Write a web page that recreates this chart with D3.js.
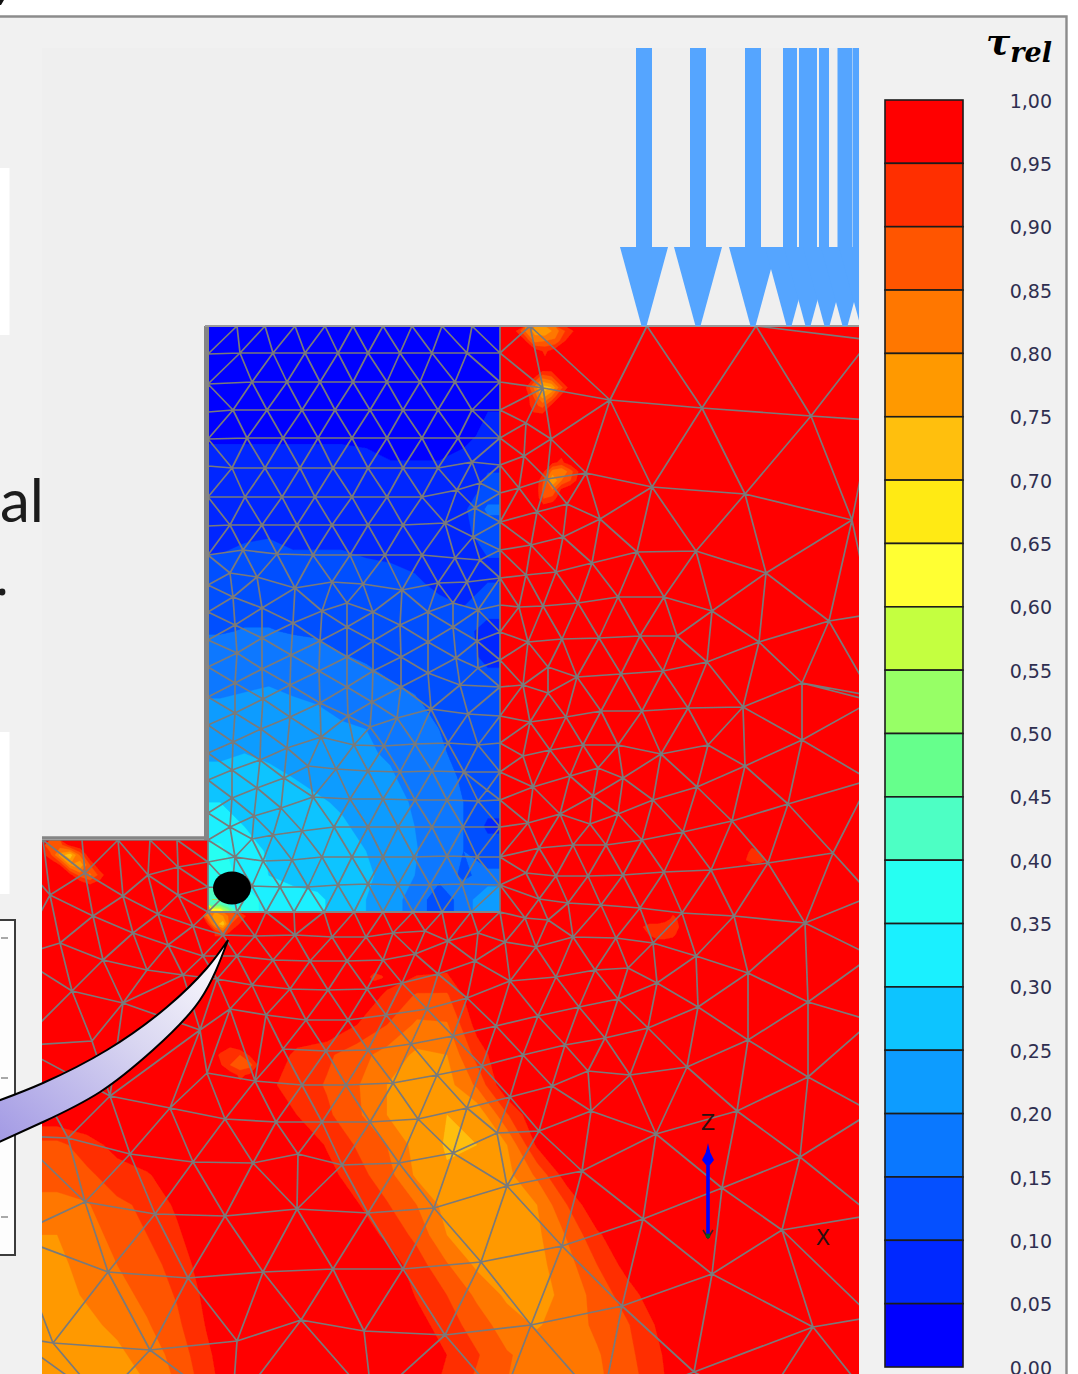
<!DOCTYPE html>
<html>
<head>
<meta charset="utf-8">
<script src="https://cdn.jsdelivr.net/npm/d3@7"></script>
<style>
html,body{margin:0;padding:0;background:#fff;overflow:hidden}
svg{display:block}
</style>
</head>
<body>
<svg id="c" width="1078" height="1374"></svg>
<script>
// ---- legend -------------------------------------------------------------
const tickValues = [1,.95,.9,.85,.8,.75,.7,.65,.6,.55,.5,.45,.4,.35,.3,.25,.2,.15,.1,.05,0];
const tickLabels = ["1,00","0,95","0,90","0,85","0,80","0,75","0,70","0,65","0,60","0,55","0,50","0,45","0,40","0,35","0,30","0,25","0,20","0,15","0,10","0,05","0,00"];
const bandColors = ["#ff0000","#ff2f00","#ff5500","#ff7700","#ff9900","#ffbf0d","#ffea14","#ffff33","#c4ff40","#97ff66","#66ff8c","#4dffc4","#26fff2","#1af0ff","#0dc4ff","#0d9cff","#0a78ff","#0550ff","#0028ff","#0000ff"];
const legendTitle = "\u03C4", legendSub = "rel";

// ---- loads, model units -------------------------------------------------
const loadTips = [602,656,711,747,766,785,803,821];
const loadShafts = [602,656,711,748,766,782,803,814];
const shaftWidths = [16,16,16,14,18,10,15,6];

// ---- tau_rel: wall block (12 cols x 24 rows) ---------------------------
const wallField = [
[.02,.02,.02,.02,.02,.02,.02,.02,.02,.02,.02,.02],
[.02,.02,.02,.02,.02,.02,.02,.02,.02,.02,.02,.02],
[.02,.02,.02,.02,.02,.02,.02,.02,.02,.02,.02,.03],
[.02,.02,.02,.02,.02,.02,.02,.02,.02,.02,.03,.05],
[.04,.04,.04,.04,.04,.04,.04,.03,.03,.03,.04,.06],
[.07,.07,.07,.07,.07,.07,.06,.05,.05,.05,.06,.09],
[.08,.08,.08,.08,.08,.08,.08,.07,.07,.07,.07,.11],
[.09,.09,.09,.09,.08,.08,.08,.08,.08,.08,.09,.16],
[.085,.095,.098,.09,.09,.09,.09,.085,.085,.085,.09,.12],
[.103,.108,.108,.105,.105,.105,.10,.098,.095,.09,.09,.10],
[.12,.125,.125,.12,.12,.115,.112,.108,.103,.095,.095,.10],
[.135,.14,.14,.135,.13,.125,.12,.117,.112,.105,.10,.11],
[.147,.152,.152,.147,.145,.135,.13,.125,.12,.112,.108,.09],
[.17,.172,.172,.168,.162,.152,.145,.138,.13,.122,.113,.09],
[.185,.19,.195,.19,.18,.17,.16,.15,.143,.13,.12,.11],
[.205,.21,.215,.205,.20,.19,.175,.17,.155,.14,.125,.12],
[.215,.22,.225,.22,.21,.205,.20,.18,.165,.15,.135,.125],
[.245,.25,.24,.235,.225,.215,.205,.195,.175,.155,.14,.125],
[.26,.265,.265,.25,.24,.23,.22,.205,.185,.165,.145,.125],
[.30,.29,.28,.265,.255,.245,.23,.215,.195,.17,.15,.12],
[.33,.30,.29,.28,.27,.255,.24,.22,.20,.175,.15,.09],
[.36,.32,.295,.28,.275,.265,.25,.23,.205,.17,.15,.125],
[.38,.33,.30,.285,.28,.27,.255,.24,.20,.165,.145,.16],
[.42,.38,.33,.32,.31,.28,.25,.22,.18,.12,.17,.25]
];

// ---- tau_rel: soil below the wall (22 cols x 15 rows)
const soilField = [
[1,1,1,1,1,1,1,1,1,1,1,1,.98,.97,1,1,1,1,1,1,1,1],
[1,1,1,1,1,1,1,1,1,1,1,.94,.895,.895,1,1,1,1,1,1,1,1],
[1,1,1,1,1,1,1,1,1,1,.95,.90,.84,.845,.97,1,1,1,1,1,1,1],
[1,1,1,1,1,1,1,1,.935,.91,.87,.83,.79,.80,.92,1,1,1,1,1,1,1],
[1,1,1,1,1,1,1,.96,.93,.895,.855,.80,.78,.78,.86,1,1,1,1,1,1,1],
[.99,1,1,1,1,1,1,1,.95,.91,.86,.80,.77,.75,.76,.895,1,1,1,1,1,1],
[.885,.925,.97,.99,1,1,1,1,1,.945,.895,.85,.78,.745,.75,.80,.96,1,1,1,1,1],
[.87,.89,.925,.945,.98,1,1,1,1,.97,.92,.87,.79,.755,.755,.785,.86,.98,1,1,1,1],
[.835,.845,.89,.91,.96,1,1,1,1,1,.955,.905,.85,.78,.77,.77,.80,.90,1,1,1,1],
[.80,.825,.87,.90,.94,1,1,1,1,1,.98,.94,.885,.80,.78,.775,.79,.855,.94,1,1,1],
[.79,.815,.85,.88,.92,.98,1,1,1,1,1,.98,.925,.855,.79,.78,.785,.83,.90,.97,1,1],
[.785,.805,.83,.865,.905,.965,1,1,1,1,1,1,.945,.90,.84,.79,.78,.815,.87,.925,.985,1],
[.77,.79,.81,.845,.89,.955,1,1,1,1,1,1,.97,.925,.875,.825,.795,.825,.86,.895,.955,1],
[.76,.775,.79,.82,.87,.94,1,1,1,1,1,1,1,.95,.905,.855,.83,.825,.845,.885,.94,1],
[.76,.77,.78,.80,.855,.925,1,1,1,1,1,1,1,.93,.89,.85,.83,.825,.84,.875,.93,1]
];

// ---- local stress concentrations: origin, cell size, tau_rel rows ------
const hotSpots = [
{x:3,z:514,s:10,v:[[.86,.88,.97,1,1,1,1],[.92,.78,.72,.86,1,1,1],[1,.95,.80,.76,.90,1,1],[1,1,.97,.88,.84,.92,1],[1,1,1,1,.96,.98,1]]},
{x:468,z:0,s:10,v:[[.96,.85,.78,.76,.82,.90,.96],[1,.96,.83,.85,.86,.95,1],[1,1,.98,.94,.98,1,1]]},
{x:478,z:39,s:9,v:[[1,1,.97,.97,1,1],[1,.95,.85,.88,.97,1],[.97,.85,.72,.75,.88,.97],[1,.90,.78,.85,.96,1],[1,.92,.88,.96,1,1],[1,.96,.96,1,1,1]]},
{x:488,z:132,s:9,v:[[1,1,.96,.94,.98,1],[1,.96,.83,.80,.88,.96],[1,.90,.75,.85,.90,.98],[1,.88,.85,.96,1,1],[1,.90,.92,1,1,1],[1,.98,1,1,1,1]]},
{x:161,z:586,s:8,v:[[.85,.78,.80,.88,.90,.96],[.96,.78,.72,.90,.95,1],[1,.95,.88,.96,1,1]]},
{x:163,z:714,s:10,v:[[1,1,.96,1,1,1],[1,.94,.92,.90,.96,1],[1,.96,.90,.86,.88,.97],[1,1,.98,.94,.96,1]]},
{x:320,z:639,s:8,v:[[1,.97,1,1],[.97,.93,.94,1],[1,.97,1,1]]},
{x:698,z:514,s:8,v:[[1,.97,1,1],[.98,.93,.95,1],[.96,.92,.92,.96],[1,1,1,1]]},
{x:595,z:589,s:8,v:[[1,1,1,.97,.94,.96],[.96,.92,.92,.92,.92,.96],[1,.95,.92,.92,.93,1],[1,1,.98,.98,1,1]]}
];
const wallCorner = {x:166,z:574,s:8,v:[[.42,.45,.40,.35],[.72,.70,.55,.42]]};

// ---- finite element mesh nodes, model units ---------------------------
const wallNodes = [
[166,0],[195,0],[223,0],[253,0],[283,0],[311,0],[341,0],[370,0],[400,0],[430,0],[458,0],
[166,28],[198,27],[231,27],[263,27],[296,27],[326,27],[358,27],[390,27],[425,27],[458,27],
[166,58],[210,56],[245,56],[278,56],[311,56],[345,56],[378,56],[413,56],[458,56],
[166,86],[191,84],[225,84],[260,84],[293,84],[328,84],[361,84],[396,84],[430,84],[458,84],
[166,113],[205,112],[241,112],[276,112],[310,112],[345,112],[380,112],[416,112],[458,112],
[166,140],[190,142],[223,142],[258,142],[291,142],[326,142],[361,142],[396,142],[430,136],[458,139],
[166,171],[203,171],[240,171],[273,171],[310,171],[345,171],[380,171],[415,164],[438,157],[458,167],
[166,200],[188,199],[220,199],[255,199],[290,199],[326,199],[361,199],[403,197],[433,182],[458,196],
[166,229],[201,224],[235,228],[271,229],[308,229],[343,229],[380,229],[413,232],[431,211],[438,234],[458,224],
[166,259],[188,247],[215,251],[253,262],[290,256],[321,258],[360,264],[396,257],[425,256],[458,252],
[191,271],[305,277],[411,277],[458,279],
[166,286],[220,282],[280,285],[331,286],[386,286],[436,284],
[193,299],[251,297],[305,301],[358,299],[411,301],[458,306],
[166,314],[220,312],[278,315],[331,315],[386,316],[435,315],
[195,327],[249,329],[305,331],[359,331],[414,332],[458,334],
[166,341],[220,343],[277,345],[331,345],[386,347],[436,342],
[193,357],[248,359],[305,361],[359,361],[418,359],[458,361],
[166,371],[221,373],[278,377],[330,376],
[193,387],[248,391],[306,390],[355,392],[389,383],[426,388],[458,390],
[166,399],[219,403],[279,411],[328,401],
[191,416],[245,422],[312,419],[342,420],[373,418],[406,417],[436,419],[458,417],
[166,427],[218,434],[266,440],[294,443],[326,445],[358,446],[390,445],[422,446],[458,446],
[190,444],[242,452],
[166,454],[215,462],[271,471],[308,473],[341,473],[373,474],[405,474],[436,475],[458,474],
[190,472],[239,482],[445,464],
[166,487],[212,490],[260,505],[292,501],[326,501],[356,501],[390,501],[421,501],[458,501],
[188,501],[231,509],[210,513],
[166,514],[193,531],[221,535],[250,534],[280,531],[310,531],[341,531],[372,531],[405,530],[435,531],[458,531],
[166,536],[190,562],[210,560],[238,561],[266,561],[296,559],[326,558],[356,559],[388,559],[420,558],[458,559],
[166,561],[166,586],[195,586],[224,586],[252,586],[282,586],[312,586],[341,586],[371,586],[400,586],[429,586],[458,586]
];
const rightNodes = [
[488,0],[605,0],[714,0],[828,0],[828,14],
[501,62],[568,74],[660,82],[769,90],[830,94],
[484,97],[509,113],[482,130],[544,147],[505,153],[610,161],[703,168],[810,194],
[477,162],[525,178],[495,186],[558,193],[521,211],[489,219],[595,226],[654,225],[550,237],[514,246],[484,249],[724,247],
[576,271],[622,271],[536,277],[501,280],[477,281],[670,285],[787,295],[830,288],
[598,310],[635,310],[557,312],[520,313],[486,316],[717,316],[665,336],
[621,345],[579,348],[535,351],[506,341],[481,359],[506,367],[760,357],[830,370],[701,381],[646,382],[600,385],[559,385],[524,391],[488,396],
[760,414],[830,375],[666,419],[619,428],[576,419],[541,419],[508,424],[481,430],[703,440],[556,442],[581,452],[528,450],[491,461],[655,461],[828,454],
[551,470],[611,474],[746,478],[518,488],[576,488],[548,498],[690,495],[486,497],[641,506],[600,514],[497,522],[531,519],[564,519],[791,527],[726,537],
[669,544],[622,546],[581,549],[546,550],[514,550],[484,547],[497,573],[526,577],[559,579],[598,582],[640,587],[692,590],[763,597],[483,592],[506,594],
[531,611],[574,612],[611,617],[463,616],[494,621],[654,630],[830,630],[553,644],[586,642],[706,647],[514,651],[468,655],[615,657],[576,673],[766,676],
[537,681],[656,681],[830,570],
[496,690],[606,702],[706,714],[563,712],[523,719],[481,729],[830,695],[645,741],[546,745],[588,749],[766,751],[510,760],[468,771],[695,785],[549,785],
[614,808],[497,805],[455,807],[758,831],[540,845],[680,862],[465,860],[601,893],[740,904],[830,889],[520,920],[670,948],[580,980],[771,1001],[489,999],
[830,991],[652,1046],[830,786]
];
const leftNodes = [
[1,514],[40,514],[76,514],[108,514],[135,514],[43,547],[136,541],[106,549],[8,569],[81,570],[136,569],[51,590],[116,588],[151,600],[91,607],[18,617],[126,619],
[181,609],[213,610],[253,609],[290,611],[324,611],[351,607],[383,605],[406,615],[436,607],
[61,634],[105,644],[161,630],[195,630],[231,634],[268,635],[305,635],[341,634],[373,628],[396,648],[433,635],[141,649],[175,653],[210,659],[248,663],[286,664],[325,663],[360,657],[425,672],
[30,665],[81,677],[188,683],[224,689],[264,694],[306,694],[344,689],[385,683],[454,700],[158,704],[411,710],[50,715],[241,723],[284,725],[326,724],[369,718],[440,740],
[165,747],[68,770],[213,755],[260,759],[304,759],[351,757],[395,749],[128,782],[183,793],[234,796],[280,796],[328,796],[376,793],[425,782],
[26,812],[88,828],[151,836],[211,837],[256,828],[300,839],[357,837],[411,827],[43,876],[113,888],[183,890],[255,883],[326,887],[392,882],
[66,946],[146,952],[221,946],[291,943],[361,943],[439,936],[11,1017],[108,1024],[195,1015],[259,994],[322,1005],[403,1009]
];
const outerNodes = [
[-25,530],[-25,630],[-25,720],[-25,810],[-30,910],[-30,1010],
[60,1075],[190,1085],[330,1075],[460,1075],[560,1080],[720,1080],[830,1075]
];

// ---- callout wedge (annotation) ----------------------------------------
const wedgeUpper = [[-5,1102],[43,1083],[107,1050],[167,1007],[207,968],[228,940]];
const wedgeLower = [[228,940],[200,1000],[153,1050],[100,1092],[43,1122],[-5,1144]];

// ---- scales -------------------------------------------------------------
const X = d3.scaleLinear([0,817],[42,859]);
const Z = d3.scaleLinear([0,1048],[326,1374]);
const L = d3.scaleLinear([0,1],[1367,100]);

const svg = d3.select("#c");
const defs = svg.append("defs");
const domainPts = [[166,0],[817,0],[817,1048],[0,1048],[0,514],[166,514]];
const domainD = d3.line().x(d=>X(d[0])).y(d=>Z(d[1]))(domainPts)+"Z";
defs.append("clipPath").attr("id","domain").append("path").attr("d",domainD);
defs.append("clipPath").attr("id","wall").append("rect")
  .attr("x",X(166)).attr("y",Z(0)).attr("width",X(458)-X(166)).attr("height",Z(586)-Z(0));
defs.append("clipPath").attr("id","loads").append("rect")
  .attr("x",0).attr("y",48).attr("width",859).attr("height",278);
defs.append("filter").attr("id","soft").attr("x","-2%").attr("y","-2%").attr("width","104%").attr("height","104%")
  .append("feGaussianBlur").attr("stdDeviation",.5);
const grad = defs.append("linearGradient").attr("id","wedge").attr("x1",0).attr("y1",1).attr("x2",1).attr("y2",0);
grad.append("stop").attr("offset",0).attr("stop-color","#a198e4");
grad.append("stop").attr("offset",.55).attr("stop-color","#d9d6f1");
grad.append("stop").attr("offset",1).attr("stop-color","#ffffff");

// ---- page background ----------------------------------------------------
svg.append("rect").attr("width",1078).attr("height",1374).attr("fill","#ffffff");
svg.append("rect").attr("x",0).attr("y",16).attr("width",1066).attr("height",1358).attr("fill","#f1f1f1");
svg.append("rect").attr("x",42).attr("y",48).attr("width",818).attr("height",1326).attr("fill","#efefef");
svg.append("path").attr("d","M0,16.5H1066.5V1374").attr("fill","none").attr("stroke","#8c8c8c").attr("stroke-width",2.4);
svg.append("path").attr("d","M0,0H4L1,5H0Z").attr("fill","#111");
svg.append("rect").attr("x",0).attr("y",168).attr("width",9.5).attr("height",167).attr("fill","#fff");
svg.append("rect").attr("x",0).attr("y",732).attr("width",9.5).attr("height",162).attr("fill","#fff");
svg.append("text").attr("x",0).attr("y",522).attr("font-family","Lato,'Open Sans',sans-serif").attr("font-size",60).attr("fill","#1c1c1c").text("al");
svg.append("circle").attr("cx",2).attr("cy",592).attr("r",3.4).attr("fill","#1c1c1c");

// inset plot stub at the left edge
svg.append("rect").attr("x",-5).attr("y",920).attr("width",20).attr("height",335).attr("fill","#fdfdfd").attr("stroke","#3c3c3c").attr("stroke-width",2);
svg.append("g").selectAll("rect").data([938,1078,1217]).join("rect")
  .attr("x",1).attr("y",d=>d-1).attr("width",7).attr("height",2).attr("fill","#a8a8a8");

// ---- field drawing ---------------------------------------------------
// rows are repeated one cell beyond the edge so clipping hides d3.contours' cut corners
function drawField(parent, rows, x0, z0, sx, sz, pad){
  const body = pad ? rows.map(r=>[r[0],...r,r[r.length-1]]) : rows;
  const full = pad ? [body[0],...body,body[body.length-1]] : body;
  const cols = full[0].length, n = full.length;
  const ox = pad ? x0-sx : x0, oz = pad ? z0-sz : z0;
  const thresholds = d3.range(1,20).map(i=>i*0.05);
  const contours = d3.contours().size([cols,n]).thresholds(thresholds)(full.flat().map(v=>1-v));
  const path = d3.geoPath(d3.geoTransform({point(x,y){ this.stream.point(X(ox+x*sx), Z(oz+y*sz)); }}));
  parent.append("g").selectAll("path").data(contours).join("path")
    .attr("d",path).attr("fill",(d,i)=>bandColors[i+1]).attr("stroke",(d,i)=>bandColors[i+1]).attr("stroke-width",.3);
}

const soil = svg.append("g").attr("clip-path","url(#domain)").append("g").attr("filter","url(#soft)");
soil.append("path").attr("d",domainD).attr("fill",bandColors[0]);
drawField(soil, soilField, 0, 624, 30, 30, true);
hotSpots.forEach(h=>drawField(soil, h.v, h.x, h.z, h.s, h.s));

const wall = svg.append("g").attr("clip-path","url(#wall)").append("g").attr("filter","url(#soft)");
drawField(wall, wallField, 166, 0, 292/12, 586/24, true);
drawField(wall, wallCorner.v, wallCorner.x, wallCorner.z, wallCorner.s, wallCorner.s);

// ---- mesh -----------------------------------------------------------
const nodes = [...wallNodes, ...rightNodes, ...leftNodes, ...outerNodes];
const del = d3.Delaunay.from(nodes);
let meshD = "";
for (let t=0; t<del.triangles.length; t+=3){
  const [a,b,c] = [del.triangles[t],del.triangles[t+1],del.triangles[t+2]].map(i=>nodes[i]);
  const cx=(a[0]+b[0]+c[0])/3, cz=(a[1]+b[1]+c[1])/3;
  if (cx<166 && cz<514) continue;
  meshD += "M"+X(a[0])+","+Z(a[1])+"L"+X(b[0])+","+Z(b[1])+"L"+X(c[0])+","+Z(c[1])+"Z";
}
svg.append("g").attr("clip-path","url(#domain)").append("path").attr("filter","url(#soft)")
  .attr("d",meshD).attr("fill","none").attr("stroke","#7a7a7a").attr("stroke-width",1.7).attr("stroke-linejoin","round");

// ---- outlines of the excavation ----------------------------------------
svg.append("path").attr("d",`M${X(0)},${Z(514)-2}H${X(166)-1}`).attr("stroke","#858585").attr("stroke-width",3.5).attr("fill","none");
svg.append("path").attr("d",`M${X(166)-1.5},${Z(514)}V${Z(0)}`).attr("stroke","#858585").attr("stroke-width",5).attr("fill","none");
svg.append("path").attr("d",`M${X(166)-3},${Z(0)}H${X(817)}`).attr("stroke","#9a9a9a").attr("stroke-width",1.8).attr("fill","none");
svg.append("path").attr("d",`M${X(166)},${Z(586)}H${X(458)}`).attr("stroke","#858585").attr("stroke-width",2).attr("fill","none");

// ---- distributed load arrows -------------------------------------------
const loads = svg.append("g").attr("clip-path","url(#loads)").attr("fill","#55a5ff");
loads.selectAll("rect").data(loadShafts).join("rect")
  .attr("x",(d,i)=>X(d)-shaftWidths[i]/2).attr("y",48).attr("width",(d,i)=>shaftWidths[i]).attr("height",202);
loads.selectAll("path").data(loadTips).join("path")
  .attr("d",d=>`M${X(d)-24},247H${X(d)+24}L${X(d)+2.5},326H${X(d)-2.5}Z`);

// ---- axis cross --------------------------------------------------------
const cross = svg.append("g");
cross.append("path").attr("d","M708,1238V1150").attr("stroke","#0000ff").attr("stroke-width",3.6);
cross.append("path").attr("d","M708,1143L710,1152L714,1160L710,1165H706L702,1160L706,1152Z").attr("fill","#0000ff");
cross.append("path").attr("d","M703,1230L708,1238L713,1230").attr("stroke","#3a2020").attr("stroke-width",1.6).attr("fill","none");
cross.append("circle").attr("cx",708).attr("cy",1236).attr("r",2.4).attr("fill","#0a5a1a");
cross.append("text").attr("x",708).attr("y",1130).attr("text-anchor","middle").attr("font-family","'DejaVu Sans',sans-serif").attr("font-size",21).attr("fill","#2a1010").text("Z");
cross.append("text").attr("x",823).attr("y",1245).attr("text-anchor","middle").attr("font-family","'DejaVu Sans',sans-serif").attr("font-size",21).attr("fill","#2a1010").text("X");

// ---- callout ------------------------------------------------------------
const wl = d3.line().curve(d3.curveNatural);
svg.append("path")
  .attr("d", wl(wedgeUpper)+"L"+wl(wedgeLower).slice(1)+"Z")
  .attr("fill","url(#wedge)").attr("stroke","#000").attr("stroke-width",2).attr("stroke-linejoin","miter");
svg.append("ellipse").attr("cx",232).attr("cy",888).attr("rx",19).attr("ry",16.5).attr("fill","#000");

// ---- legend ----------------------------------------------------------
const legend = svg.append("g");
legend.selectAll("rect").data(bandColors).join("rect")
  .attr("x",885).attr("width",78)
  .attr("y",(d,i)=>L(tickValues[i])).attr("height",(d,i)=>L(tickValues[i+1])-L(tickValues[i]))
  .attr("fill",d=>d).attr("stroke","#1c1c1c").attr("stroke-width",1.6);
const axis = d3.axisRight(L).tickValues(tickValues).tickSize(0).tickPadding(0)
  .tickFormat((d,i)=>tickLabels[i]);
const ag = svg.append("g").attr("transform","translate(1052,1)").call(axis);
ag.select(".domain").remove();
ag.selectAll("text").attr("text-anchor","end").attr("font-family","'DejaVu Sans',sans-serif")
  .attr("font-size",19).attr("fill","#2f2f50").attr("x",0);
const title = svg.append("text").attr("x",986).attr("y",54)
  .attr("font-family","'DejaVu Serif',serif").attr("font-weight","bold").attr("font-style","italic").attr("fill","#000");
title.append("tspan").attr("font-size",36).text(legendTitle);
title.append("tspan").attr("font-size",27).attr("dy",8).attr("dx",0).text(legendSub);
</script>
</body>
</html>
